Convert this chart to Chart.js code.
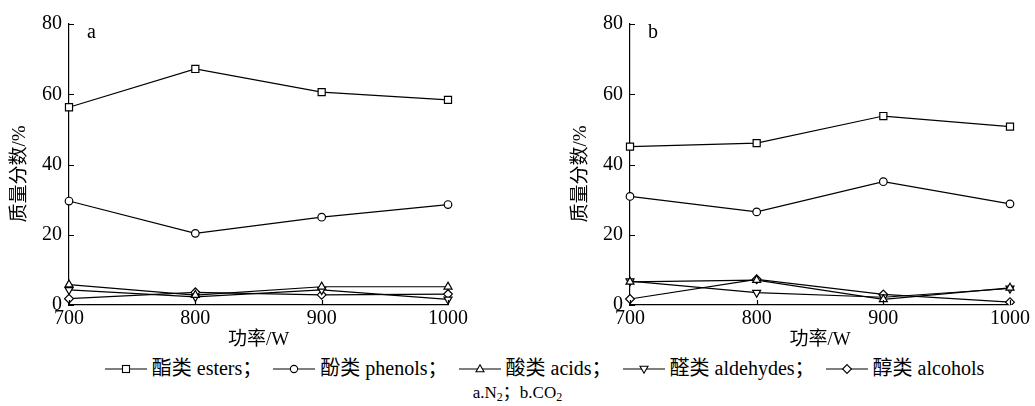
<!DOCTYPE html>
<html>
<head>
<meta charset="utf-8">
<script src="https://cdn.jsdelivr.net/npm/chart.js@4/dist/chart.umd.min.js"></script>
<style>
  html, body { margin: 0; padding: 0; background: #fff; }
  body { width: 1035px; height: 406px; position: relative; overflow: hidden;
         font-family: "Liberation Serif", "Noto Sans CJK SC", serif; color: #000; }
  #ca { position: absolute; left: 0; top: 0; }
  #cb { position: absolute; left: 561px; top: 0; }
  #legend { position: absolute; left: 27px; width: 1035px; top: 357px; text-align: center;
            font-size: 20px; white-space: nowrap; line-height: 22px; }
  #legend span.item { display: inline-block; margin-left: 11px; }
  #legend span.item:first-child { margin-left: 0; }
  #legend svg { vertical-align: -1px; margin-right: 5px; }
  #caption { position: absolute; left: 0; width: 1035px; top: 383px; text-align: center;
             font-size: 17px; line-height: 20px; }
  #caption sub { font-size: 12px; vertical-align: -3px; line-height: 0; }
</style>
</head>
<body>
<canvas id="ca" width="473" height="355"></canvas>
<canvas id="cb" width="474" height="355"></canvas>
<div id="legend"></div>
<div id="caption"></div>
<script>
// ---- data ----
const categories = ['700', '800', '900', '1000'];
const yTicks = [0, 20, 40, 60, 80];
const seriesNames = ['酯类 esters', '酚类 phenols', '酸类 acids', '醛类 aldehydes', '醇类 alcohols'];
const estersA    = [56.3, 67.2, 60.6, 58.4];
const phenolsA   = [29.6, 20.4, 25.0, 28.6];
const acidsA     = [5.8, 2.8, 5.2, 5.2];
const aldehydesA = [4.3, 2.3, 4.3, 1.6];
const alcoholsA  = [1.8, 3.6, 2.9, 3.1];
const estersB    = [45.1, 46.1, 53.8, 50.8];
const phenolsB   = [30.9, 26.5, 35.1, 28.8];
const acidsB     = [6.6, 7.1, 1.6, 4.9];
const aldehydesB = [6.8, 3.5, 2.2, 4.7];
const alcoholsB  = [1.7, 7.3, 3.0, 0.8];
const xTitle = '功率/W';
const yTitle = '质量分数/%';
const panelLabels = ['a', 'b'];
const captionParts = ['a.N', '2', '；b.CO', '2'];

// ---- styles ----
const FONT = '"Liberation Serif", "Noto Sans CJK SC", serif';
const markers = [
  { pointStyle: 'rect', radius: 5, rotation: 0 },
  { pointStyle: 'circle', radius: 3.8, rotation: 0 },
  { pointStyle: 'triangle', radius: 4.6, rotation: 0 },
  { pointStyle: 'triangle', radius: 4.6, rotation: 180 },
  { pointStyle: 'rectRot', radius: 4.4, rotation: 0 }
];

function makeDatasets(arrs) {
  return arrs.map((d, i) => ({
    label: seriesNames[i],
    data: d,
    borderColor: '#000',
    borderWidth: 1.2,
    backgroundColor: '#fff',
    pointBackgroundColor: '#fff',
    pointBorderColor: '#000',
    pointBorderWidth: 1.2,
    pointStyle: markers[i].pointStyle,
    pointRadius: markers[i].radius,
    pointRotation: markers[i].rotation,
    tension: 0,
    fill: false
  }));
}

const inwardTicks = {
  id: 'inwardTicks',
  afterDraw(chart, args, opts) {
    const ctx = chart.ctx, a = chart.chartArea;
    const xs = chart.scales.x, ys = chart.scales.y;
    ctx.save();
    ctx.strokeStyle = '#000';
    ctx.lineWidth = 1.2;
    ctx.beginPath();
    ys.ticks.forEach((t, i) => {
      const y = Math.round(ys.getPixelForTick(i)) + 0.5;
      ctx.moveTo(a.left, y); ctx.lineTo(a.left + 5, y);
    });
    xs.ticks.forEach((t, i) => {
      const x = Math.round(xs.getPixelForTick(i)) + 0.5;
      ctx.moveTo(x, a.bottom); ctx.lineTo(x, a.bottom - 5);
    });
    ctx.stroke();
    // panel letter
    ctx.fillStyle = '#000';
    ctx.font = '20px ' + FONT;
    ctx.textBaseline = 'middle';
    ctx.textAlign = 'left';
    ctx.fillText(opts.label, a.left + 18, a.top + 9);
    ctx.restore();
  }
};

function makeChart(id, arrs, label) {
  return new Chart(document.getElementById(id), {
    type: 'line',
    data: { labels: categories, datasets: makeDatasets(arrs) },
    plugins: [inwardTicks],
    options: {
      responsive: false,
      animation: false,
      devicePixelRatio: 1,
      layout: { padding: { top: 24, right: 25, left: 0, bottom: 0 } },
      plugins: {
        legend: { display: false },
        tooltip: { enabled: false },
        inwardTicks: { label: label }
      },
      scales: {
        x: {
          type: 'category',
          offset: false,
          grid: { display: true, drawOnChartArea: false, drawTicks: false },
          border: { display: true, color: '#000', width: 1.2 },
          ticks: { color: '#000', padding: 2, maxRotation: 0, autoSkip: false,
                   font: { family: FONT, size: 20 } },
          title: { display: true, text: xTitle, color: '#000',
                   font: { family: FONT, size: 19 }, padding: { top: 0, bottom: 4 } },
          afterFit(s) { s.height = 50; }
        },
        y: {
          min: 0, max: 80,
          afterBuildTicks(s) { s.ticks = yTicks.map(v => ({ value: v })); },
          grid: { display: true, drawOnChartArea: false, drawTicks: false },
          border: { display: true, color: '#000', width: 1.2 },
          ticks: { color: '#000', padding: 7, font: { family: FONT, size: 20 } },
          title: { display: true, text: yTitle + '    ', color: '#000',
                   font: { family: FONT, size: 19 }, padding: { top: 8.5, bottom: 0 } },
          afterFit(s) { s.width = 69; }
        }
      }
    }
  });
}

makeChart('ca', [estersA, phenolsA, acidsA, aldehydesA, alcoholsA], panelLabels[0]);
makeChart('cb', [estersB, phenolsB, acidsB, aldehydesB, alcoholsB], panelLabels[1]);

// ---- legend (HTML) ----
function markerSvg(i) {
  const m = markers[i];
  let shape = '';
  const cx = 21, cy = 7;
  if (m.pointStyle === 'rect') shape = `<rect x="${cx-3.5}" y="${cy-3.5}" width="7" height="7"/>`;
  else if (m.pointStyle === 'circle') shape = `<circle cx="${cx}" cy="${cy}" r="3.6"/>`;
  else if (m.pointStyle === 'triangle' && m.rotation === 0) shape = `<polygon points="${cx},${cy-4.2} ${cx+4},${cy+2.8} ${cx-4},${cy+2.8}"/>`;
  else if (m.pointStyle === 'triangle') shape = `<polygon points="${cx},${cy+4.2} ${cx+4},${cy-2.8} ${cx-4},${cy-2.8}"/>`;
  else shape = `<polygon points="${cx},${cy-4.4} ${cx+4.4},${cy} ${cx},${cy+4.4} ${cx-4.4},${cy}"/>`;
  return `<svg width="42" height="14" viewBox="0 0 42 14"><line x1="0" y1="${cy}" x2="42" y2="${cy}" stroke="#000" stroke-width="1.2"/><g fill="#fff" stroke="#000" stroke-width="1.1">${shape}</g></svg>`;
}
const legendEl = document.getElementById('legend');
legendEl.innerHTML = seriesNames.map((n, i) =>
  `<span class="item">${markerSvg(i)}${n}${i < seriesNames.length - 1 ? '；' : ''}</span>`).join('');
document.getElementById('caption').innerHTML =
  `${captionParts[0]}<sub>${captionParts[1]}</sub>${captionParts[2]}<sub>${captionParts[3]}</sub>`;
</script>
</body>
</html>
